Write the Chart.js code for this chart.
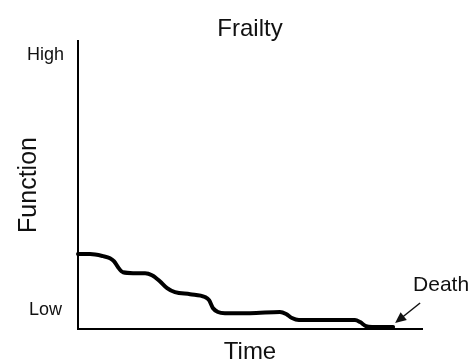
<!DOCTYPE html>
<html>
<head>
<meta charset="utf-8">
<title>Frailty</title>
<script src="https://cdn.jsdelivr.net/npm/chart.js@4.4.1/dist/chart.umd.min.js"></script>
<style>
    body { margin: 0; background: #fff; }
    #wrap { width: 472px; height: 364px; }
</style>
</head>
<body>
<div id="wrap"><canvas id="frailtyChart"></canvas></div>
<script>
// time (0-100) and function (0-100)
const timeValues = [0, 3.5, 7.3, 9.3, 10.5, 11.6, 13.1, 16.0, 19.5, 21.5, 23.8, 25.9, 28.2, 32.6, 36.9, 38.1, 39.2, 40.7, 42.7, 50.0, 58.7, 60.5, 62.2, 64.2, 73.3, 80.5, 82.0, 83.7, 85.5, 91.6]
const functionValues = [26.0, 26.0, 25.3, 24.6, 23.5, 21.5, 19.7, 19.4, 19.4, 18.7, 16.6, 14.2, 12.8, 12.1, 11.1, 10.0, 7.3, 5.9, 5.5, 5.5, 5.9, 5.2, 3.8, 3.1, 3.1, 3.1, 2.4, 1.0, 0.7, 0.7]
const yTickValues = [6.5, 95]
const yTickLabels = ['Low', 'High']
const endLabel = 'Death'

const fontFamily = '"Liberation Sans", Arial, sans-serif'
const ink = '#111'

//death label + arrow, anchored on the last point of the curve
const deathArrow = {
    id: 'deathArrow',
    afterDraw: (chart) => {
        const ctx = chart.ctx
        const xs = chart.scales.x
        const ys = chart.scales.y
        const n = timeValues.length - 1
        const ex = xs.getPixelForValue(timeValues[n])
        const ey = ys.getPixelForValue(functionValues[n])
        const tipX = ex + 2, tipY = ey - 4
        const tailX = ex + 27, tailY = ey - 24
        ctx.save()
        ctx.strokeStyle = ink
        ctx.fillStyle = ink
        ctx.lineWidth = 1.5
        ctx.beginPath()
        ctx.moveTo(tailX, tailY)
        ctx.lineTo(tipX + 5, tipY - 4)
        ctx.stroke()
        // arrow head
        const ang = Math.atan2(tipY - tailY, tipX - tailX)
        const len = 11, half = 5
        ctx.beginPath()
        ctx.moveTo(tipX, tipY)
        ctx.lineTo(tipX - len * Math.cos(ang) + half * Math.sin(ang), tipY - len * Math.sin(ang) - half * Math.cos(ang))
        ctx.lineTo(tipX - len * Math.cos(ang) - half * Math.sin(ang), tipY - len * Math.sin(ang) + half * Math.cos(ang))
        ctx.closePath()
        ctx.fill()
        ctx.font = '21px ' + fontFamily
        ctx.textAlign = 'center'
        ctx.textBaseline = 'middle'
        ctx.fillText(endLabel, ex + 48, ey - 42)
        ctx.restore()
    }
}

function renderChart() {
    const canvas = document.querySelector('#frailtyChart')
    const points = timeValues.map((t, i) => ({ x: t, y: functionValues[i] }))
    const config = {
        type: 'line',
        data: {
            datasets: [{
                data: points,
                borderColor: '#000',
                borderWidth: 4,
                pointRadius: 0,
                cubicInterpolationMode: 'monotone',
                borderCapStyle: 'round',
                borderJoinStyle: 'round',
                clip: false
            }]
        },
        options: {
            responsive: true,
            maintainAspectRatio: false,
            animation: false,
            layout: { padding: { left: 0, right: 50, top: 0, bottom: 0 } },
            plugins: {
                legend: { display: false },
                tooltip: { enabled: false },
                title: {
                    display: true,
                    fullSize: false,
                    text: 'Frailty',
                    color: ink,
                    font: { family: fontFamily, size: 24, weight: 'normal', lineHeight: 1 },
                    padding: { top: 17, bottom: 0 }
                }
            },
            scales: {
                x: {
                    type: 'linear',
                    min: 0,
                    max: 100,
                    grid: { display: false, drawTicks: false },
                    border: { display: true, color: '#000', width: 2 },
                    ticks: { display: false },
                    title: {
                        display: true,
                        text: 'Time',
                        color: ink,
                        font: { family: fontFamily, size: 24, lineHeight: 1 },
                        padding: { top: 0, bottom: 0 }
                    },
                    afterFit: (scale) => { scale.height = 35 }
                },
                y: {
                    min: 0,
                    max: 100,
                    grid: { display: false, drawTicks: false },
                    border: { display: true, color: '#000', width: 2 },
                    afterBuildTicks: (scale) => {
                        scale.ticks = yTickValues.map((v) => ({ value: v }))
                    },
                    ticks: {
                        color: ink,
                        padding: 14,
                        crossAlign: 'center',
                        font: { family: fontFamily, size: 18 },
                        callback: (value) => yTickLabels[yTickValues.indexOf(value)]
                    },
                    title: {
                        display: true,
                        text: 'Function',
                        color: ink,
                        font: { family: fontFamily, size: 25, lineHeight: 1 },
                        padding: { top: 17, bottom: 0 }
                    },
                    afterFit: (scale) => { scale.width = 78 }
                }
            }
        },
        plugins: [deathArrow]
    }
    new Chart(canvas, config)
}

document.addEventListener('DOMContentLoaded', () => {
    renderChart()
})
</script>
</body>
</html>
